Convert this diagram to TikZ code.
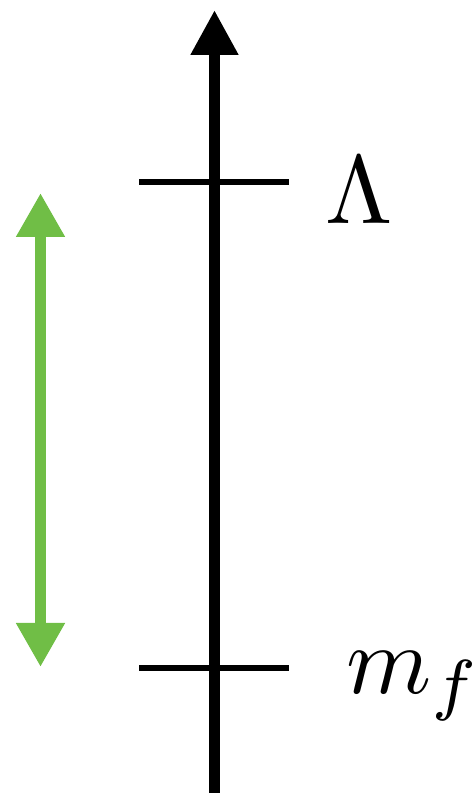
\documentclass[tikz,border=0pt]{standalone}
\usepackage{amsmath,amssymb}
\usepackage{graphicx}
\usepackage{tikz}
\usetikzlibrary{arrows.meta,positioning,calc}
\definecolor{scalegreen}{RGB}{112,190,70}
\newcommand{\biglab}[1]{\scalebox{4.85}{#1}}
\tikzset{
  scaleaxis/.style={
    line width=5.5pt,
    -{Triangle[length=22.5pt,width=22.5pt]}
  },
  scaletick/.style={line width=3pt},
  scalelabel/.style={
    anchor=base west, inner sep=0pt
  },
  scalerange/.style={
    draw=scalegreen, line width=5.5pt,
    {Triangle[length=22pt,width=23pt]}-{Triangle[length=22pt,width=23pt]}
  }
}

\begin{document}
\begin{tikzpicture}[x=0.5pt,y=0.5pt]
  \useasboundingbox (0,0) rectangle (474,793);
  % energy axis
  \coordinate (axbot) at (214.5,0);
  \coordinate (axtop) at (214.5,783);
  \draw[scaleaxis] (axbot) -- (axtop);

  % cutoff and fermion mass ticks
  \coordinate (lamL) at (139,611);
  \coordinate (lamR) at (289,611);
  \coordinate (mfL) at (139,125);
  \coordinate (mfR) at (289,125);
  \draw[scaletick] (lamL) -- (lamR);
  \draw[scaletick] (mfL) -- (mfR);
  \node[scalelabel] (lam) at (325,569.5) {\biglab{$\Lambda$}};
  \node[scalelabel] (mf) at (346,100) {\biglab{$m_f$}};

  % range between the two scales
  \coordinate (rtop) at (40.5,600);
  \coordinate (rbot) at (40.5,126);
  \draw[scalerange] (rbot) -- (rtop);
\end{tikzpicture}
\end{document}
